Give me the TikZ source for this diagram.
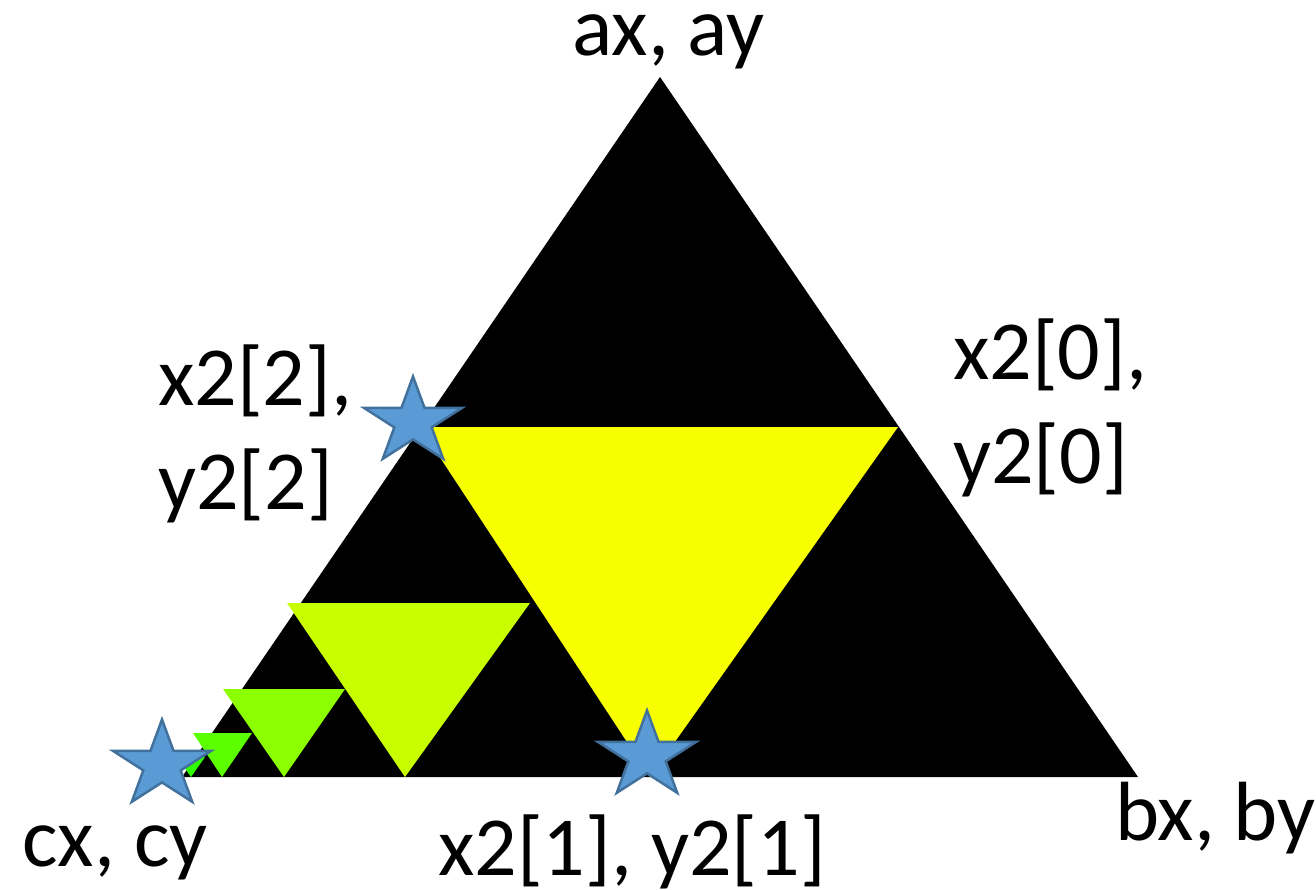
\documentclass[tikz,border=0pt]{standalone}
\usepackage{fontspec}
\setmainfont{Carlito}
\usetikzlibrary{shapes.geometric}
\definecolor{starblue}{HTML}{5B9BD5}
\definecolor{staredge}{HTML}{41719C}
\definecolor{holeA}{HTML}{F8FF00}
\definecolor{holeB}{HTML}{C8FF00}
\definecolor{holeC}{HTML}{8CFF00}
\definecolor{holeD}{HTML}{5CFF00}
\definecolor{holeE}{HTML}{30FF00}

\begin{document}
\begin{tikzpicture}[
  x=1pt, y=-1pt,
  lbl/.style={font=\fontsize{84}{104}\selectfont, inner sep=0pt,
              anchor=base west, align=left},
  mark5/.style={star, star points=5, star point ratio=2.618,
                minimum size=91pt, inner sep=0pt, fill=starblue,
                draw=staredge, line width=2.5pt, xscale=1.13}
]
\useasboundingbox (0,0) rectangle (1316,889);
% outer triangle
\coordinate (a) at (660,77);
\coordinate (b) at (1138,777);
\coordinate (c) at (182,777);
\fill (a) -- (b) -- (c) -- cycle;
% removed middles
\fill[holeA] (420,427) -- (898,427) -- (650,777) -- cycle;
\fill[holeB] (287,603) -- (530,603) -- (405,777) -- cycle;
\fill[holeC] (223,689) -- (345,689) -- (284,777) -- cycle;
\fill[holeD] (193,733) -- (252,733) -- (222,777) -- cycle;
\fill[holeE] (177,757) -- (205,757) -- (191,777) -- cycle;
% stars
\node[mark5] (sc) at (162,765) {};
\node[mark5] (s2) at (413,422) {};
\node[mark5] (s1) at (647,756) {};
% labels
\node[lbl] (la) at (572,55) {ax, ay};
\node[lbl] (l0) at (953,483) {x2[0],\\y2[0]};
\node[lbl] (l2) at (158,509) {x2[2],\\y2[2]};
\node[lbl] (lc) at (22,866) {cx, cy};
\node[lbl] (l1) at (438,875) {x2[1], y2[1]};
\node[lbl] (lb) at (1115,840) {bx, by};
\end{tikzpicture}
\end{document}
